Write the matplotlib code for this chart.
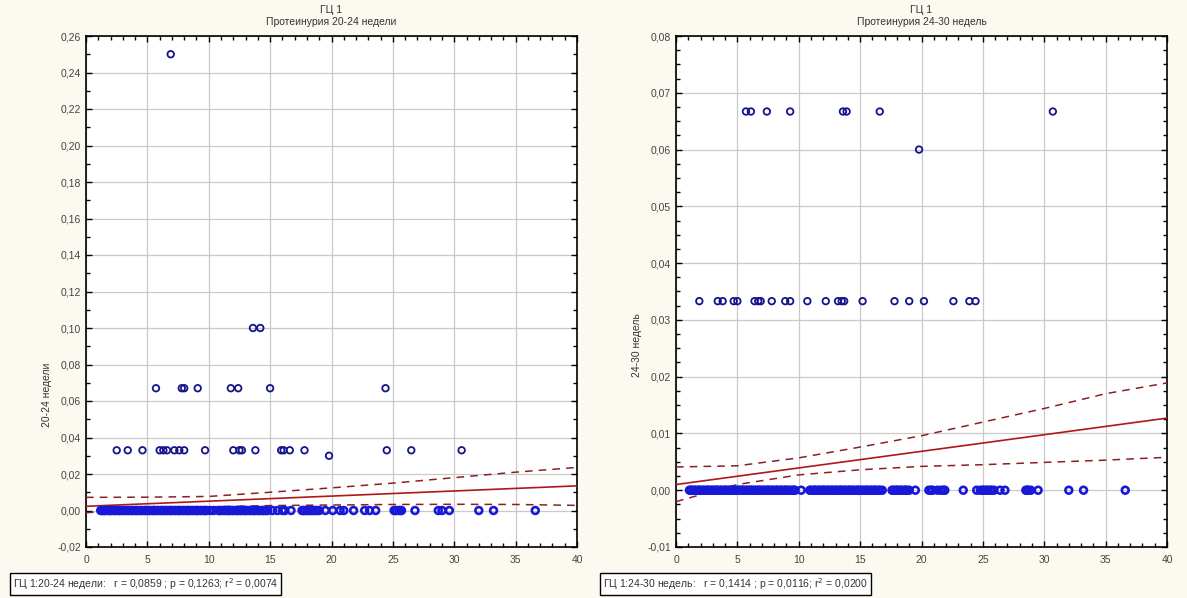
import matplotlib
matplotlib.use("Agg")
import matplotlib.pyplot as plt
from matplotlib.ticker import MultipleLocator, FuncFormatter

plt.rcParams['font.family'] = ['Liberation Sans', 'DejaVu Sans']

# ---------------- data: left panel (20-24 недели) ----------------
left_title = "ГЦ 1"
left_subtitle = "Протеинурия 20-24 недели"
left_ylabel = "20-24 недели"
left_stats = "ГЦ 1:20-24 недели:   r = 0,0859 ; p = 0,1263; r$^2$ = 0,0074"

left_x = [6.9,
          13.6, 14.2,
          5.7, 7.8, 8.0, 9.1, 11.8, 12.4, 15.0, 24.4,
          2.5, 3.4, 4.6, 6.0, 6.3, 6.6, 7.2, 7.6, 8.0, 9.7, 12.0, 12.5, 12.7, 13.8,
          15.9, 16.1, 16.6, 17.8, 24.5, 26.5, 30.6,
          19.8]
left_y = [0.25,
          0.10, 0.10,
          0.067, 0.067, 0.067, 0.067, 0.067, 0.067, 0.067, 0.067,
          0.033, 0.033, 0.033, 0.033, 0.033, 0.033, 0.033, 0.033, 0.033, 0.033, 0.033,
          0.033, 0.033, 0.033, 0.033, 0.033, 0.033, 0.033, 0.033, 0.033, 0.033,
          0.030]
left_zero_x = [1.2, 1.3, 1.4, 1.5, 1.6, 1.8, 1.9, 2.0, 2.1, 2.3, 2.4, 2.6, 2.7, 2.8, 3.0,
               3.1, 3.3, 3.4, 3.5, 3.7, 3.8, 4.0, 4.1, 4.2, 4.4, 4.5, 4.7, 4.8, 4.9,
               5.1, 5.2, 5.4, 5.5, 5.6, 5.8, 5.9, 6.1, 6.2, 6.3, 6.5, 6.6, 6.8, 6.9,
               7.0, 7.2, 7.3, 7.5, 7.6, 7.7, 7.9, 8.0, 8.2, 8.3, 8.4, 8.6, 8.7, 8.9,
               9.0, 9.1, 9.3, 9.4, 9.6, 9.7, 9.8, 10.1, 10.4,
               10.8, 10.9, 11.0, 11.2, 11.3, 11.5, 11.6, 11.7, 11.9, 12.0, 12.2, 12.3,
               12.4, 12.6, 12.7, 12.9, 13.0, 13.1, 13.3, 13.4, 13.6, 13.7, 13.8, 14.0,
               14.1, 14.3, 14.4, 14.5, 14.7, 14.8, 15.2, 15.6, 16.0, 16.2, 16.7,
               17.6, 17.7, 17.8, 18.0, 18.1, 18.3, 18.4, 18.5, 18.7, 18.8, 19.0,
               19.5, 20.1, 20.7, 21.0, 21.8, 22.7, 23.1, 23.6, 25.1, 25.2, 25.3, 25.5,
               25.6, 25.7, 26.8, 28.7, 29.0, 29.6, 32.0, 33.2, 36.6]
left_fit_x = [0, 40]
left_fit_y = [0.0023, 0.0135]
left_band_x = [0, 5, 10, 15, 20, 25, 30, 35, 40]
left_upper = [0.0072, 0.0073, 0.0077, 0.0100, 0.0124, 0.0150, 0.0180, 0.0210, 0.0236]
left_lower = [-0.0012, 0.0008, 0.0020, 0.0027, 0.0030, 0.0033, 0.0034, 0.0033, 0.0028]

# ---------------- data: right panel (24-30 недель) ----------------
right_title = "ГЦ 1"
right_subtitle = "Протеинурия 24-30 недель"
right_ylabel = "24-30 недель"
right_stats = "ГЦ 1:24-30 недель:   r = 0,1414 ; p = 0,0116; r$^2$ = 0,0200"

right_x = [5.7, 6.1, 7.4, 9.3, 13.6, 13.9, 16.6, 30.7,
           19.8,
           1.9, 3.4, 3.8, 4.7, 5.0, 6.4, 6.7, 6.9, 7.8, 8.9, 9.3, 10.7, 12.2, 13.2, 13.5,
           13.7, 15.2, 17.8, 19.0, 20.2, 22.6, 23.9, 24.4]
right_y = [0.0667, 0.0667, 0.0667, 0.0667, 0.0667, 0.0667, 0.0667, 0.0667,
           0.060,
           0.0333, 0.0333, 0.0333, 0.0333, 0.0333, 0.0333, 0.0333, 0.0333, 0.0333,
           0.0333, 0.0333, 0.0333, 0.0333, 0.0333, 0.0333, 0.0333, 0.0333, 0.0333,
           0.0333, 0.0333, 0.0333, 0.0333, 0.0333]
right_zero_x = [1.1, 1.2, 1.3, 1.5, 1.6, 1.8, 1.9, 2.0, 2.2, 2.3, 2.5, 2.6, 2.7, 2.9, 3.0,
                3.2, 3.3, 3.4, 3.6, 3.7, 3.9, 4.0, 4.1, 4.3, 4.4, 4.6, 4.7, 4.8, 5.0,
                5.1, 5.3, 5.4, 5.5, 5.7, 5.8, 6.0, 6.1, 6.2, 6.4, 6.5, 6.7, 6.8, 6.9,
                7.1, 7.2, 7.4, 7.5, 7.6, 7.8, 7.9, 8.1, 8.2, 8.3, 8.5, 8.6, 8.8, 8.9,
                9.0, 9.2, 9.3, 9.5, 9.6, 9.7, 10.2,
                10.9, 11.0, 11.2, 11.3, 11.4, 11.6, 11.7, 11.9, 12.0, 12.1, 12.3, 12.4,
                12.6, 12.7, 12.8, 13.0, 13.1, 13.3, 13.4, 13.5, 13.7, 13.8, 14.0, 14.1,
                14.2, 14.4, 14.5, 14.7, 14.8, 14.9, 15.1, 15.2, 15.4, 15.5, 15.6, 15.8,
                15.9, 16.1, 16.2, 16.3, 16.5, 16.6, 16.8,
                17.6, 17.7, 17.9, 18.0, 18.1, 18.3, 18.4, 18.6, 18.7, 18.8, 19.0, 19.5,
                20.6, 20.8, 20.9, 21.3, 21.6, 21.8, 21.9, 23.4, 24.5, 24.8, 25.0, 25.1,
                25.3, 25.4, 25.6, 25.7, 25.9, 26.4, 26.8, 28.5, 28.6, 28.7, 28.9, 29.5,
                32.0, 33.2, 36.6]
right_fit_x = [0, 40]
right_fit_y = [0.0010, 0.0127]
right_band_x = [0, 5, 10, 15, 20, 25, 30, 35, 40]
right_upper = [0.0041, 0.0043, 0.0057, 0.0076, 0.0096, 0.0120, 0.0144, 0.0170, 0.0189]
right_lower = [-0.0020, 0.0010, 0.0027, 0.0036, 0.0042, 0.0045, 0.0049, 0.0053, 0.0058]

W, H = 1187, 598
fig = plt.figure(figsize=(W / 100, H / 100), dpi=100, facecolor='#fbf9f0')

MARK = '#14148c'
FIT = '#b01818'
BAND = '#8a2020'


def comma_fmt(dec):
    return FuncFormatter(lambda v, p: (f"{v:.{dec}f}").replace('.', ','))


def panel(rect, title, subtitle, ylabel, xs, ys, zx, fx, fy, bx, bu, bl,
          ylim, ymaj, ymin, dec, ylab_center, stats, stats_x):
    ax = fig.add_axes(rect)
    ax.set_facecolor('white')
    ax.set_xlim(0, 40)
    ax.set_ylim(*ylim)
    ax.xaxis.set_major_locator(MultipleLocator(5))
    ax.xaxis.set_minor_locator(MultipleLocator(1))
    ax.yaxis.set_major_locator(MultipleLocator(ymaj))
    ax.yaxis.set_minor_locator(MultipleLocator(ymin))
    ax.yaxis.set_major_formatter(comma_fmt(dec))
    ax.grid(True, which='major', color='#c9c9c9', lw=0.9)
    ax.set_axisbelow(True)
    ax.tick_params(which='both', direction='in', top=True, right=True,
                   labelsize=7.5, labelcolor='#444444', color='black')
    ax.tick_params(which='major', length=4, width=1)
    ax.tick_params(which='minor', length=3, width=1)
    ax.tick_params(axis='x', pad=6)
    for s in ax.spines.values():
        s.set_linewidth(1.2)
        s.set_color('black')
    ax.plot(fx, fy, color=FIT, lw=1.2, zorder=3)
    ax.plot(bx, bu, color=BAND, lw=1.1, ls=(0, (5, 4)), zorder=3)
    ax.plot(bx, bl, color=BAND, lw=1.1, ls=(0, (5, 4)), zorder=3)
    ax.scatter(zx, [0.0] * len(zx), s=24, facecolors='none',
               edgecolors='#1818d8', linewidths=1.9, zorder=4)
    ax.scatter(xs, ys, s=22, facecolors='none', edgecolors=MARK,
               linewidths=1.3, zorder=4)
    l, b, w, h = rect
    cx = l + w / 2
    fig.text(cx, 1 - 10 / H, title, ha='center', va='center', fontsize=7.5, color='#333333')
    fig.text(cx, 1 - 22 / H, subtitle, ha='center', va='center', fontsize=7.5, color='#333333')
    fig.text(l - 39 / W, 1 - ylab_center / H, ylabel, rotation=90, ha='center', va='center',
             fontsize=7.5, color='#333333')
    fig.text(stats_x, 1 - 584 / H, stats, ha='left', va='center', fontsize=7.5,
             color='#333333',
             bbox=dict(boxstyle='square,pad=0.25', fc='white', ec='black', lw=1))
    return ax


top, bot = 36, 547
left_rect = [86 / W, 1 - bot / H, (577 - 86) / W, (bot - top) / H]
right_rect = [676 / W, 1 - bot / H, (1167 - 676) / W, (bot - top) / H]

panel(left_rect, left_title, left_subtitle, left_ylabel, left_x, left_y, left_zero_x,
      left_fit_x, left_fit_y, left_band_x, left_upper, left_lower,
      (-0.02, 0.26), 0.02, 0.01, 2, 395, left_stats, 13 / W)
panel(right_rect, right_title, right_subtitle, right_ylabel, right_x, right_y, right_zero_x,
      right_fit_x, right_fit_y, right_band_x, right_upper, right_lower,
      (-0.01, 0.08), 0.01, 0.0025, 2, 345, right_stats, 603 / W)

fig.savefig('out.png', dpi=100, facecolor=fig.get_facecolor())
